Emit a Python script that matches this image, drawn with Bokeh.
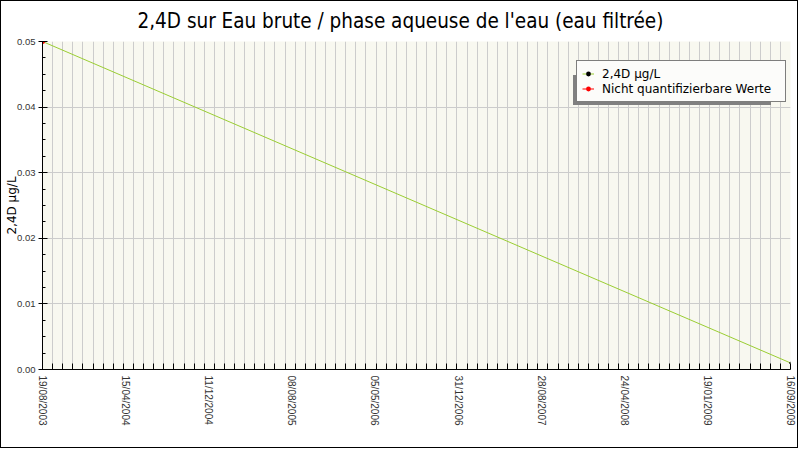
import numpy as np
import pandas as pd
from bokeh.plotting import figure
from bokeh.models import (FixedTicker, Range1d, Legend, LegendItem,
                          ColumnDataSource, PrintfTickFormatter)
from bokeh.embed import file_html
from bokeh.resources import INLINE

# ---------------- data ----------------
title_text = "2,4D sur Eau brute / phase aqueuse de l'eau (eau filtrée)"
y_label = "2,4D µg/L"
series_name = "2,4D µg/L"
nq_name = "Nicht quantifizierbare Werte"

dates = ["2003-08-19", "2009-09-16"]
values = [0.05, 0.001]

nq_dates = ["2003-08-19"]
nq_values = [0.05]

x_tick_labels = ["19/08/2003", "15/04/2004", "11/12/2004", "08/08/2005",
                 "05/05/2006", "31/12/2006", "28/08/2007", "24/04/2008",
                 "19/01/2009", "16/09/2009"]
y_ticks = [0.0, 0.01, 0.02, 0.03, 0.04, 0.05]
minor_step_days = 30


def to_ms(ds):
    idx = pd.to_datetime(ds)
    return [int((t - pd.Timestamp("1970-01-01")) // pd.Timedelta(milliseconds=1)) for t in idx]


x = to_ms(dates)
x_nq = to_ms(nq_dates)
x0, x1 = x[0], x[-1]

major_x = [int(round(v)) for v in np.linspace(x0, x1, len(x_tick_labels))]
day_ms = 86400000
minor_x = list(range(x0, x1 + 1, minor_step_days * day_ms))
minor_y = [round(v, 5) for v in np.arange(0, y_ticks[-1] + 1e-9, 0.0025)]

src = ColumnDataSource(dict(x=x, y=values))
src_nq = ColumnDataSource(dict(x=x_nq, y=nq_values))

FONT = "DejaVu Sans"
TITLEFONT = "DejaVu Sans Condensed, DejaVu Sans"
TICKFONT = "Liberation Sans"

p = figure(width=798, height=448, output_backend="svg", toolbar_location=None,
           x_range=Range1d(x0, x1), y_range=Range1d(0, y_ticks[-1]),
           min_border_left=41, min_border_right=9, min_border_top=40,
           min_border_bottom=80,
           background_fill_color="#F8F8F0", border_fill_color="white",
           outline_line_color=None)
p.styles = {"border": "1px solid black"}

p.title.text = title_text
p.title.align = "left"
p.title.vertical_align = "top"
p.title.offset = 95
p.title.standoff = 13
p.title.text_font = TITLEFONT
p.title.text_font_size = "20.5px"
p.title.text_font_style = "normal"
p.title.text_color = "black"

# axes
xa = p.xaxis[0]
xa.ticker = FixedTicker(ticks=major_x, minor_ticks=minor_x)
xa.major_label_overrides = {t: lab for t, lab in zip(major_x, x_tick_labels)}
xa.major_label_orientation = "vertical"
xa.major_tick_in = 0
xa.major_tick_out = 0
xa.minor_tick_in = 6
xa.minor_tick_out = 0
xa.major_label_standoff = 6
xa.major_label_text_font = TICKFONT
xa.major_label_text_font_size = "10px"
xa.major_label_text_color = "#333333"
xa.axis_line_color = "black"
xa.minor_tick_line_color = "black"

ya = p.yaxis[0]
ya.ticker = FixedTicker(ticks=y_ticks, minor_ticks=minor_y)
ya.formatter = PrintfTickFormatter(format="%.2f")
ya.major_tick_in = 5
ya.major_tick_out = 4
ya.minor_tick_in = 3
ya.minor_tick_out = 0
ya.major_label_standoff = 3
ya.major_label_text_font = TICKFONT
ya.major_label_text_font_size = "9.5px"
ya.major_label_text_color = "#333333"
ya.axis_label = y_label
ya.axis_label_text_font = FONT
ya.axis_label_text_font_size = "12px"
ya.axis_label_text_font_style = "normal"
ya.axis_label_text_color = "black"
ya.axis_label_standoff = -5
ya.axis_line_color = "black"

# grids
p.xgrid.ticker = FixedTicker(ticks=minor_x)
p.xgrid.grid_line_color = "#CCCCCC"
p.ygrid.ticker = FixedTicker(ticks=y_ticks)
p.ygrid.grid_line_color = "#CCCCCC"

# series
line_r = p.line("x", "y", source=src, line_color="#9ACD32", line_width=1)
dot_r = p.scatter("x", "y", source=src, marker="circle", size=2.5,
                  fill_color="black", line_color=None)
nq_line = p.line("x", "y", source=src_nq, line_color="red", line_width=1)
nq_dot = p.scatter("x", "y", source=src_nq, marker="circle", size=5,
                   fill_color="red", line_color=None)

# legend + its drop shadow (shadow uses an invisible dummy glyph)
legend_style = dict(padding=5, spacing=0, label_height=15, glyph_height=15,
                    glyph_width=12, label_standoff=8, label_width=178,
                    label_text_font=FONT, label_text_font_size="12px",
                    background_fill_alpha=1.0)
dummy = p.line("x", "y", source=src_nq, line_alpha=0)
shadow = Legend(items=[LegendItem(label=" ", renderers=[dummy]),
                       LegendItem(label=" ", renderers=[dummy])],
                location=(531, 264), label_text_color="#808080",
                background_fill_color="#808080", border_line_color=None,
                **legend_style)
legend = Legend(items=[LegendItem(label=series_name, renderers=[line_r, dot_r]),
                       LegendItem(label=nq_name, renderers=[nq_line, nq_dot])],
                location=(534, 267), label_text_color="black",
                background_fill_color="#FCFCFA", border_line_color="black",
                border_line_width=1, **legend_style)
p.add_layout(shadow, "center")
p.add_layout(legend, "center")

open("out.html", "w").write(file_html(p, INLINE))
